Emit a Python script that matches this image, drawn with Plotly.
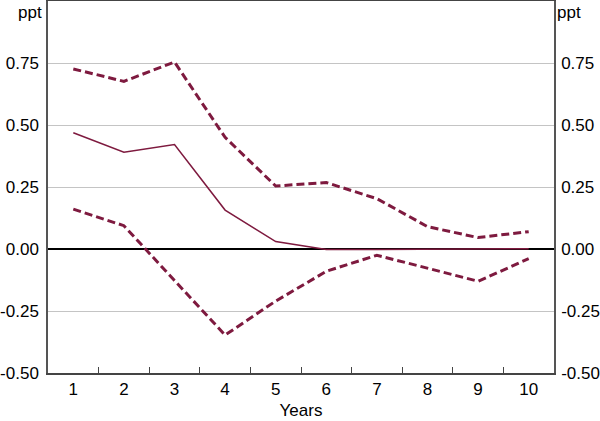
import plotly.graph_objects as go

years = ["1", "2", "3", "4", "5", "6", "7", "8", "9", "10"]
central = [0.469, 0.390, 0.421, 0.157, 0.030, -0.002, -0.002, -0.001, 0.000, 0.001]
upper = [0.726, 0.676, 0.754, 0.450, 0.254, 0.268, 0.203, 0.090, 0.046, 0.070]
lower = [0.161, 0.094, -0.127, -0.347, -0.210, -0.090, -0.025, -0.076, -0.130, -0.039]
ytick_vals = [-0.5, -0.25, 0.0, 0.25, 0.5, 0.75]
ytick_text = ["-0.50", "-0.25", "0.00", "0.25", "0.50", "0.75"]

COL = "#7E1A3F"
FONT = "Liberation Sans, Arial, sans-serif"
FS = 17

fig = go.Figure()
fig.add_trace(go.Scatter(x=years, y=upper, mode="lines",
                         line=dict(color=COL, width=3, dash="8px,4px"),
                         hoverinfo="skip", showlegend=False))
fig.add_trace(go.Scatter(x=years, y=lower, mode="lines",
                         line=dict(color=COL, width=3, dash="8px,4px"),
                         hoverinfo="skip", showlegend=False))
fig.add_trace(go.Scatter(x=years, y=central, mode="lines",
                         line=dict(color=COL, width=1.5),
                         hoverinfo="skip", showlegend=False))
# invisible copy to activate the right-hand axis
fig.add_trace(go.Scatter(x=years, y=central, mode="lines", yaxis="y2",
                         line=dict(color="rgba(0,0,0,0)", width=0),
                         hoverinfo="skip", showlegend=False))

fig.update_layout(
    width=600, height=421,
    margin=dict(l=48, r=46, t=1, b=48, autoexpand=False),
    paper_bgcolor="white", plot_bgcolor="white",
    font=dict(family=FONT, size=FS, color="black"),
    hovermode=False,
    xaxis=dict(type="category", range=[-0.5, 9.5], showgrid=False,
               showline=True, linecolor="#444", linewidth=1.5, mirror=True,
               ticks="inside", tickson="boundaries", ticklen=6,
               tickcolor="#444", tickwidth=1,
               tickfont=dict(size=FS),
               title=dict(text="Years", font=dict(size=FS), standoff=6)),
    yaxis=dict(range=[-0.5, 1.0], tickvals=ytick_vals, ticktext=ytick_text,
               showgrid=True, gridcolor="#c4c4c4", gridwidth=1,
               zeroline=True, zerolinecolor="black", zerolinewidth=1.5,
               showline=True, linecolor="#555", linewidth=1.5,
               ticks="", ticklabelstandoff=4, tickfont=dict(size=FS)),
    yaxis2=dict(range=[-0.5, 1.0], tickvals=ytick_vals, ticktext=ytick_text,
                overlaying="y", side="right", anchor="x",
                showgrid=False, zeroline=False,
                showline=True, linecolor="#555", linewidth=1.5,
                ticks="", ticklabelstandoff=2, tickfont=dict(size=FS)),
    annotations=[
        dict(text="ppt", xref="paper", yref="paper", x=0, y=0.97,
             xanchor="right", yanchor="middle", xshift=-4, showarrow=False,
             font=dict(size=FS)),
        dict(text="ppt", xref="paper", yref="paper", x=1, y=0.97,
             xanchor="left", yanchor="middle", xshift=1, showarrow=False,
             font=dict(size=FS)),
    ],
)

fig.write_html("out.html", config={"displayModeBar": False},
               post_script="document.body.style.margin='0';document.body.style.padding='0';")
